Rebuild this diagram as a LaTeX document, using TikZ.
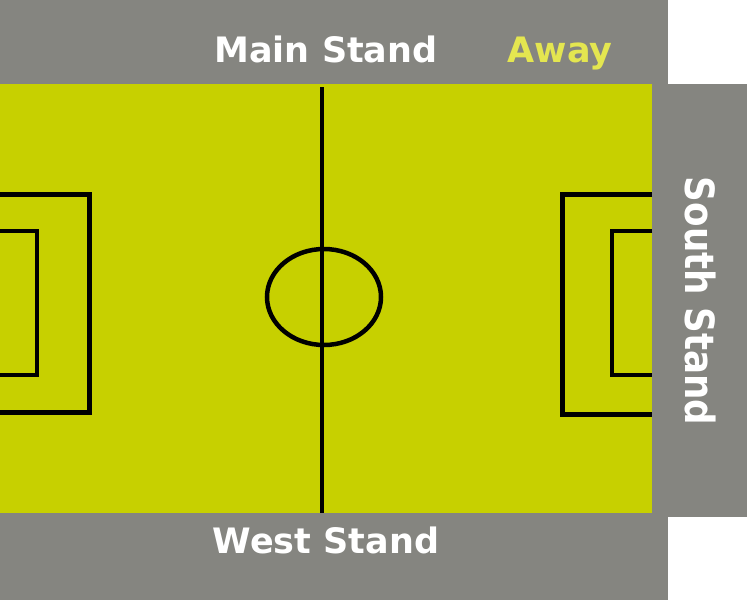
\documentclass[tikz,border=0pt]{standalone}
\usepackage{fontspec}
\setmainfont{DejaVu Sans}
\usepackage{xcolor}
\usepackage{tikz}

\definecolor{stand}{RGB}{133,133,128}
\definecolor{pitch}{RGB}{199,208,0}
\definecolor{away}{RGB}{228,230,80}

\begin{document}
\begin{tikzpicture}[x=1pt,y=-1pt,
  standlabel/.style={text=white,inner sep=0pt,font=\fontsize{35}{35}\selectfont\bfseries}]
%% fond
\useasboundingbox (0,0) rectangle (747,600);
\fill[white] (0,0) rectangle (747,600);

%% tribunes
\fill[stand] (0,0) rectangle (668,85);
\fill[stand] (0,512) rectangle (668,600);
\fill[stand] (651,84) rectangle (747,517);

%% terrain
\fill[pitch] (0,84) rectangle (652,513);
\draw[line width=4.5pt] (322,87) -- (322,513);
\draw[line width=4.5pt] (324,297) ellipse (57pt and 48pt);

%% surfaces de reparation
\draw[line width=5pt] (0,194) -- (89,194) -- (89,412) -- (0,412);
\draw[line width=5pt] (652,194) -- (562,194) -- (562,414) -- (652,414);

%% surfaces de but
\def\g{37};
\draw[line width=4pt] (0,231) -- (\g,231) -- (\g,375) -- (0,375);
\draw[line width=4pt] (652,231) -- (612,231) -- (612,375) -- (652,375);

%% noms
\node[standlabel,anchor=base] (main) at (326,62) {Main Stand};
\node[standlabel,anchor=base,text=away] (away) at (560,62) {Away};
\node[standlabel,anchor=base] (west) at (326,553) {West Stand};
\node[standlabel,rotate=-90] (south) at (700,301) {\scalebox{1.02}[1.15]{South Stand}};
\end{tikzpicture}
\end{document}
